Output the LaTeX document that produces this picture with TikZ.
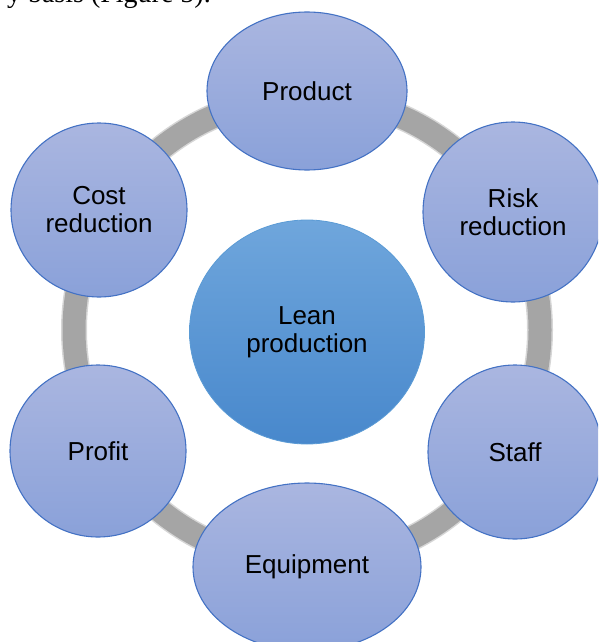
\documentclass[tikz,border=0pt]{standalone}
\usepackage{fontspec}
\setmainfont{Liberation Sans}
\newfontfamily\bodyserif{Liberation Serif}
\usetikzlibrary{shapes.geometric}

\definecolor{ringgray}{HTML}{A5A5A5}
\definecolor{ringedge}{HTML}{D6D6D6}
\definecolor{outerTop}{HTML}{AAB6E0}
\definecolor{outerBot}{HTML}{8AA1D9}
\definecolor{outerLine}{HTML}{4472C4}
\definecolor{hubTop}{HTML}{6FA6DC}
\definecolor{hubBot}{HTML}{4888CC}
\definecolor{hubLine}{HTML}{5B9BD5}

\tikzset{
  label text/.style={font=\fontsize{26}{28}\selectfont, align=center, text=black},
  satellite/.style={ellipse, inner sep=0pt, draw=outerLine, line width=1.1pt,
    top color=outerTop, bottom color=outerBot, label text},
  hub/.style={ellipse, inner sep=0pt, draw=hubLine, line width=0.8pt,
    top color=hubTop, bottom color=hubBot, label text},
  cycle ring/.style={line width=#1},
}

\begin{document}
\begin{tikzpicture}[x=1pt, y=-1pt]
  \useasboundingbox (0,0) rectangle (598,642);
  \clip (0,0) rectangle (598,642);

  % running text above the figure
  \node[anchor=base east, inner sep=0pt, font=\bodyserif\fontsize{28}{30}\selectfont]
    (lead) at (211,3) {y basis (Figure 5).};

  % grey ring linking the outer topics
  \coordinate (ringcentre) at (307,330);
  \draw[ringedge, cycle ring=26pt] (ringcentre) circle[radius=233pt];
  \draw[ringgray, cycle ring=23pt] (ringcentre) circle[radius=233pt];

  % outer topics
  \node[satellite, minimum width=200pt, minimum height=158pt] (product) at (307,91) {Product};
  \node[satellite, minimum width=180pt, minimum height=180pt] (risk) at (513,212) {Risk\\reduction};
  \node[satellite, minimum width=176pt, minimum height=174pt] (cost) at (99,210) {Cost\\reduction};
  \node[satellite, minimum width=174pt, minimum height=174pt] (staff) at (515,452) {Staff};
  \node[satellite, minimum width=176pt, minimum height=172pt] (profit) at (98,451) {Profit};
  \node[satellite, minimum width=228pt, minimum height=168pt] (equipment) at (307,567) {Equipment};

  % central concept
  \node[hub, minimum width=235pt, minimum height=224pt] (lean) at (307,332) {Lean\\production};
\end{tikzpicture}
\end{document}
